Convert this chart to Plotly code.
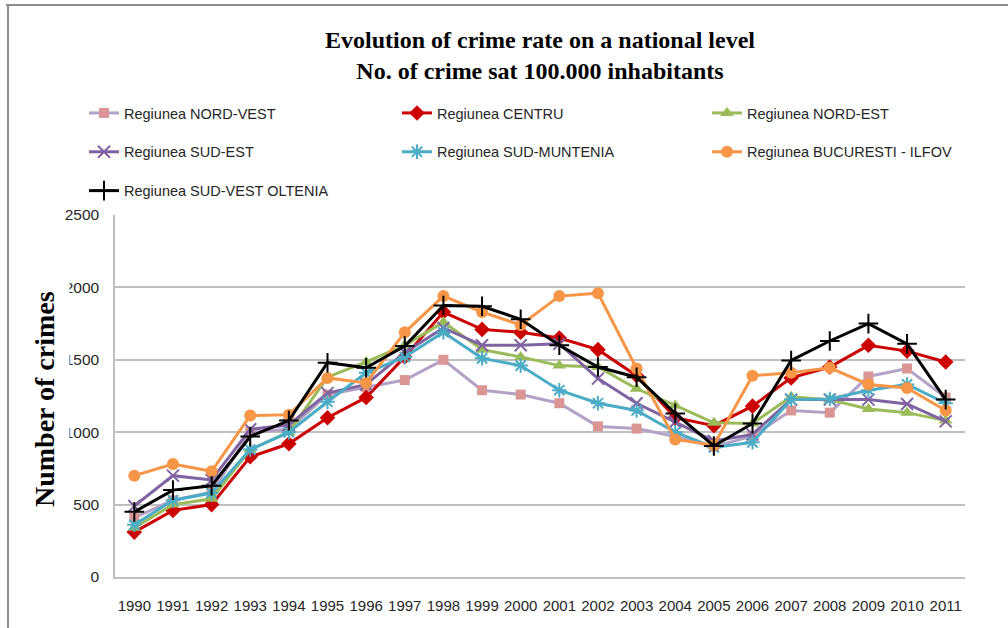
import plotly.graph_objects as go

years = list(range(1990, 2012))

nord_vest = [410, 530, 585, 1000, 1020, 1260, 1310, 1360, 1500, 1290, 1260, 1200, 1040, 1025, 970, 900, 975, 1150, 1135, 1385, 1440, 1240]
centru = [310, 460, 500, 830, 920, 1100, 1240, 1520, 1830, 1710, 1690, 1650, 1570, 1390, 1100, 1045, 1180, 1375, 1450, 1600, 1560, 1485]
nord_est = [340, 500, 540, 880, 1000, 1380, 1485, 1600, 1760, 1570, 1520, 1460, 1450, 1300, 1185, 1065, 1060, 1245, 1225, 1160, 1135, 1080]
sud_est = [490, 700, 670, 1020, 1050, 1270, 1330, 1550, 1720, 1600, 1600, 1610, 1370, 1200, 1070, 940, 985, 1225, 1225, 1225, 1195, 1075]
sud_muntenia = [360, 530, 580, 880, 1000, 1210, 1410, 1520, 1690, 1510, 1460, 1290, 1200, 1150, 1000, 895, 930, 1225, 1230, 1290, 1330, 1200]
bucuresti = [700, 780, 730, 1115, 1120, 1375, 1340, 1690, 1940, 1830, 1740, 1940, 1960, 1440, 950, 910, 1390, 1410, 1445, 1330, 1305, 1150]
sud_vest = [450, 600, 630, 970, 1080, 1480, 1445, 1595, 1875, 1870, 1780, 1600, 1450, 1380, 1130, 905, 1060, 1495, 1630, 1750, 1610, 1225]

series = [
    ("Regiunea NORD-VEST", nord_vest, "#b3a2c7", "#d99694", "square", 10, "legend"),
    ("Regiunea CENTRU", centru, "#cc0000", "#cc0000", "diamond", 12, "legend2"),
    ("Regiunea NORD-EST", nord_est, "#9bbb59", "#9bbb59", "triangle-up", 12, "legend3"),
    ("Regiunea SUD-EST", sud_est, "#8064a2", "#8064a2", "x-thin", 12, "legend"),
    ("Regiunea SUD-MUNTENIA", sud_muntenia, "#4bacc6", "#4bacc6", "asterisk", 12, "legend2"),
    ("Regiunea BUCURESTI - ILFOV", bucuresti, "#f79646", "#f79646", "circle", 12, "legend3"),
    ("Regiunea SUD-VEST OLTENIA", sud_vest, "#000000", "#000000", "cross-thin", 14, "legend"),
]

fig = go.Figure()
for name, vals, lc, mc, sym, size, lg in series:
    thin = sym in ("x-thin", "asterisk", "cross-thin")
    fig.add_trace(go.Scatter(
        x=years, y=vals, name=name, mode="lines+markers",
        line=dict(color=lc, width=3),
        marker=dict(symbol=sym, size=size, color=mc,
                    line=dict(color=mc, width=2 if thin else 0)),
        legend=lg, legendgroup=name,
    ))

W, H = 1008, 628
L, R, T, B = 115, 43, 215, 51
pw, ph = W - L - R, H - T - B

def px(x):
    return (x - L) / pw

def py(y):
    return (H - B - y) / ph

SANS = "Liberation Sans, Arial, sans-serif"
SERIF = "Liberation Serif, Times New Roman, serif"

leg_font = dict(family=SANS, size=14.5, color="#262626")
common = dict(orientation="v", yanchor="top", xanchor="left", bgcolor="rgba(0,0,0,0)",
              font=leg_font, tracegroupgap=17, itemwidth=30)

fig.update_layout(
    width=W, height=H,
    margin=dict(l=L, r=R, t=T, b=B, autoexpand=False),
    paper_bgcolor="white", plot_bgcolor="white",
    title=dict(
        text="Evolution of crime rate on a national level<br>No. of crime sat 100.000 inhabitants",
        x=0.5, xref="paper", xanchor="center", y=1 - 48 / H, yanchor="top",
        font=dict(family=SERIF, size=24, color="black", weight="bold"),
    ),
    legend=dict(x=px(84), y=py(97), **common),
    legend2=dict(x=px(397), y=py(97), **common),
    legend3=dict(x=px(707), y=py(97), **common),
    xaxis=dict(
        range=[1989.5, 2011.5], tickmode="array", tickvals=years, ticktext=[str(y) for y in years],
        showgrid=False, showline=True, linecolor="#bfbfbf", linewidth=1.5,
        ticks="", ticklabelstandoff=14, tickangle=0, automargin=False,
        tickfont=dict(family=SANS, size=15, color="#262626"),
    ),
    yaxis=dict(
        range=[0, 2500], tickmode="array", tickvals=[0, 500, 1000, 1500, 2000, 2500],
        ticktext=["0", "500", "1000", "1500", "2000", "2500"],
        showgrid=True, gridcolor="#bfbfbf", gridwidth=1.5,
        showline=True, linecolor="#bfbfbf", linewidth=1.5, zeroline=False,
        ticks="", ticklabelstandoff=11, automargin=False,
        tickfont=dict(family=SANS, size=15.5, color="#262626"),
    ),
    showlegend=True,
)

fig.add_annotation(
    text="<b>Number of crimes</b>", textangle=-90,
    xref="paper", yref="paper", x=px(44), y=py(399), xanchor="center", yanchor="middle",
    showarrow=False, bgcolor="white", borderpad=9,
    font=dict(family=SERIF, size=28, color="black"),
)

# outer frame lines (top and left)
fig.add_shape(type="line", xref="paper", yref="paper", x0=px(6), x1=px(1008), y0=py(5), y1=py(5),
              line=dict(color="#8c8c8c", width=2))
fig.add_shape(type="line", xref="paper", yref="paper", x0=px(8), x1=px(8), y0=py(5), y1=py(628),
              line=dict(color="#8c8c8c", width=2))

fig.write_html("out.html", config={"displayModeBar": False},
               post_script="document.body.style.margin='0';")
